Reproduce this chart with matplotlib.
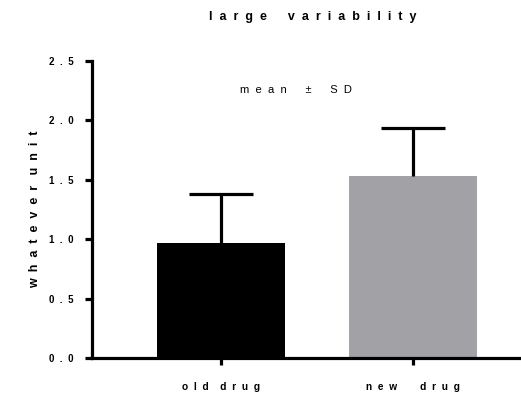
import matplotlib.pyplot as plt
import numpy as np

# data
groups = ['old drug', 'new drug']
means = [0.97, 1.53]
sds = [0.41, 0.41]
bar_colors = ['#000000', '#a2a1a6']
yticks = [0.0, 0.5, 1.0, 1.5, 2.0, 2.5]


def spaced(s, gap='  ', word='      '):
    # GraphPad-style letter spacing
    return word.join(gap.join(w) for w in s.split(' '))


plt.rcParams['font.family'] = ['Liberation Sans', 'DejaVu Sans']

fig = plt.figure(figsize=(5.21, 3.95), dpi=100)
ax = fig.add_axes([92 / 521, 37 / 395, 1 - 92 / 521, 297 / 395])

x = np.arange(len(groups))
ax.bar(x, means, width=0.667, color=bar_colors, zorder=2)
# upper-only error bars, no cap at the bar top
tops = np.array(means) + np.array(sds)
ax.vlines(x, means, tops, color='black', lw=2.3, zorder=3)
ax.hlines(tops, x - 0.167, x + 0.167, color='black', lw=2.3, zorder=3)

ax.set_xlim(-0.672, 1.5625)
ax.set_ylim(0, 2.5)
ax.set_yticks(yticks)
ax.set_yticklabels([spaced('%.1f' % v) for v in yticks], fontsize=7, fontweight='bold')
ax.set_xticks(x)
ax.set_xticklabels([spaced('old drug', word='    '), spaced('new drug', word='        ')],
                   fontsize=7.3, fontweight='bold')

for s in ['top', 'right']:
    ax.spines[s].set_visible(False)
for s in ['left', 'bottom']:
    ax.spines[s].set_linewidth(2.3)
ax.tick_params(axis='y', direction='out', length=5, width=2.3, pad=8)
ax.tick_params(axis='x', direction='out', length=5, width=2.3, pad=12)

ax.set_ylabel(spaced('whatever unit', word='   '), fontsize=9, fontweight='bold', labelpad=6)
ax.text(0.39, 2.26, spaced('mean ± SD'), fontsize=8, ha='center', va='center')

fig.text(313 / 521, 1 - 17 / 395, spaced('large variability'), fontsize=9,
         fontweight='bold', ha='center', va='center')

fig.savefig('out.png', dpi=100)
